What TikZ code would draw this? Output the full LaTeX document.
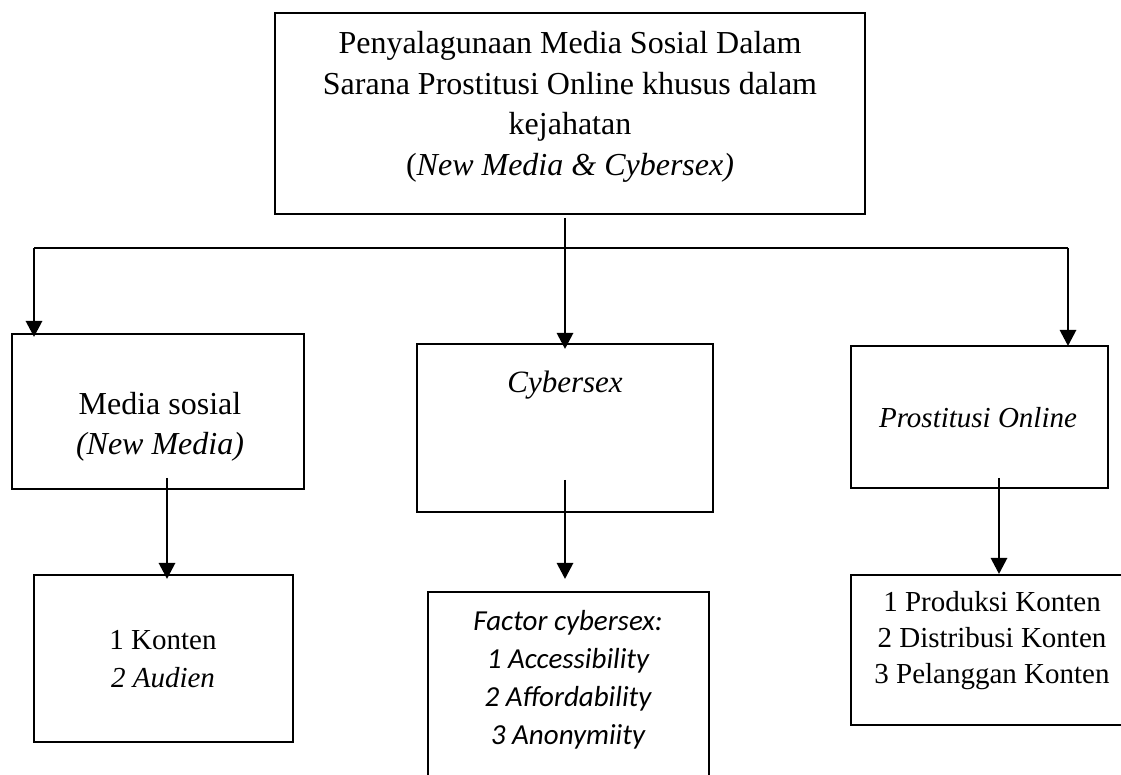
\documentclass[tikz,border=0pt]{standalone}
\usepackage{fontspec}
\setmainfont{Liberation Serif}
\newfontfamily\calfont{Carlito}
\usetikzlibrary{arrows.meta}
\begin{document}
\begin{tikzpicture}[x=0.5pt,y=-0.5pt,
  box/.style={draw, line width=1pt, inner sep=0pt},
  conn/.style={line width=1.4pt},
  arr/.style={conn, -{Triangle[width=8pt,length=8pt]}},
  txt/.style={align=center, inner sep=0pt},
  big/.style={font=\fontsize{16}{20.25}\selectfont},
  mid/.style={font=\fontsize{14.5}{19}\selectfont}]
\useasboundingbox (0,0) rectangle (1121,775);
\clip (0,0) rectangle (1121,775);
% boxes
\node[box, minimum width=295pt, minimum height=100.5pt] (top) at (570,113.5) {};
\node[box, minimum width=146pt, minimum height=77.5pt] (media) at (158,411.5) {};
\node[box, minimum width=148pt, minimum height=84pt] (cyber) at (565,428) {};
\node[box, minimum width=128.5pt, minimum height=71pt] (prost) at (979.5,417) {};
\node[box, minimum width=129.5pt, minimum height=83.5pt] (konten) at (163.5,658.5) {};
\node[box, minimum width=140.5pt, minimum height=104pt] (factor) at (568.5,696) {};
\node[box, minimum width=149.5pt, minimum height=75pt] (prod) at (1000.5,650) {};
% texts
\node[txt, big] (toptxt) at (570,107) {Penyalagunaan Media Sosial Dalam\\Sarana Prostitusi Online khusus dalam\\kejahatan\\(\textit{New Media \& Cybersex)}};
\node[txt, big] (mediatxt) at (160,427) {Media sosial\\\textit{(New Media)}};
\node[txt, font=\fontsize{15.5}{19}\selectfont\itshape] (cybertxt) at (565,385) {Cybersex};
\node[txt, font=\fontsize{14.5}{19}\selectfont\itshape] (prosttxt) at (978,418) {Prostitusi Online};
\node[txt, mid] (kontxt) at (163,659) {1 Konten\\\textit{2 Audien}};
\node[txt, font=\calfont\fontsize{14.5}{19}\selectfont\itshape] (factxt) at (568,680) {Factor cybersex:\\1 Accessibility\\2 Affordability\\3 Anonymiity};
\node[txt, font=\fontsize{14.5}{18}\selectfont] (prodtxt) at (992,641) {1 Produksi Konten\\2 Distribusi Konten\\3 Pelanggan Konten};
% connectors
\coordinate (hl) at (34,248);
\coordinate (hr) at (1068,248);
\coordinate (m1) at (167,478);
\coordinate (c1) at (565,480);
\coordinate (p1) at (999,478);
\draw[conn] (hl) -- (hr);
\draw[arr] ([yshift=-1.5pt]top.south -| cyber.north) -- ([yshift=-3pt]cyber.north);
\draw[arr] (hl) -- ([yshift=-2pt]hl |- media.north);
\draw[arr] (hr) -- ([yshift=-0.5pt]hr |- prost.north);
\draw[arr] (m1) -- ([yshift=-2.5pt]m1 |- konten.north);
\draw[arr] (c1) -- ([yshift=6pt]c1 |- factor.north);
\draw[arr] (p1) -- (p1 |- prod.north);
\end{tikzpicture}
\end{document}
